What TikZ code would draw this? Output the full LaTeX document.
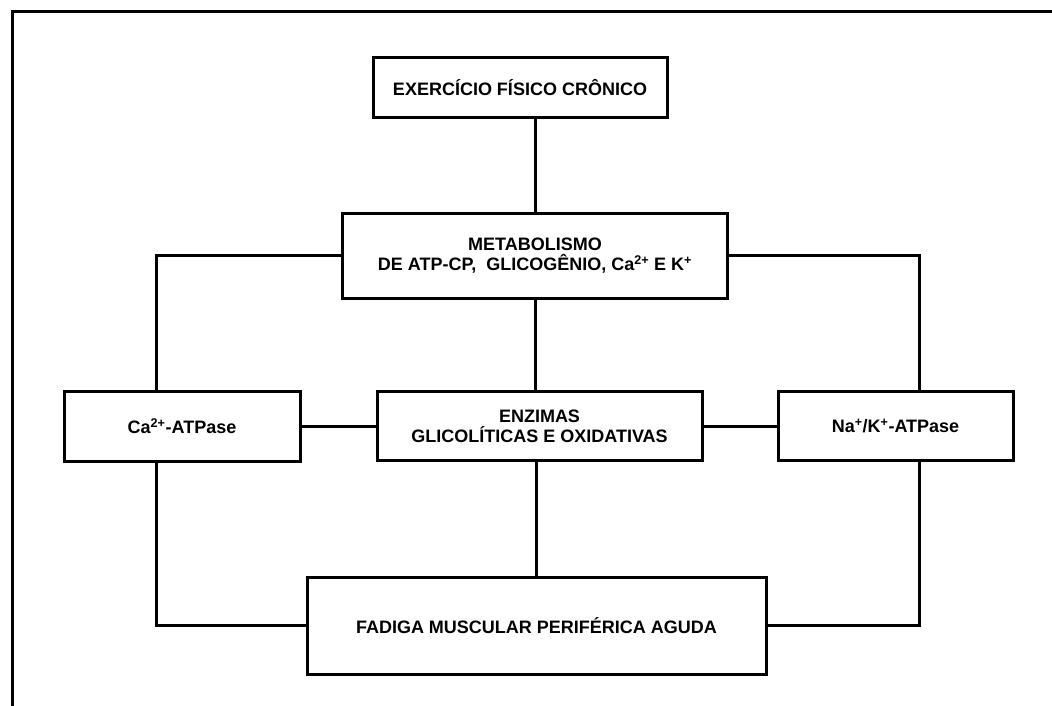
\documentclass[tikz,border=0pt]{standalone}
\usepackage{fontspec}
\setmainfont{Liberation Sans}
\begin{document}
\begin{tikzpicture}[x=1pt,y=-1pt,
  box/.style={draw=black,line width=3pt,fill=white,align=center,inner sep=0pt,
    font=\bfseries\fontsize{18}{20}\selectfont},
  conn/.style={line width=3pt},
  frame/.style={line width=3.6pt}]
\useasboundingbox (0,0) rectangle (1052,706);
\fill[white] (0,0) rectangle (1052,706);
\draw[frame] (12.5,706) -- (12.5,11.5) -- (1052,11.5);

\node[box,minimum width=294pt,minimum height=60pt] (top) at (520,88) {EXERCÍCIO FÍSICO CRÔNICO};
\node[box,minimum width=385pt,minimum height=85pt] (met) at (535,255.5) {METABOLISMO\\DE ATP-CP,\ \ GLICOGÊNIO, Ca\textsuperscript{2+} E K\textsuperscript{+}};
\node[box,minimum width=236pt,minimum height=70pt] (ca) at (182,426) {Ca\textsuperscript{2+}-ATPase};
\node[box,minimum width=325pt,minimum height=69pt] (enz) at (539.5,426) {ENZIMAS\\GLICOLÍTICAS E OXIDATIVAS};
\node[box,minimum width=235pt,minimum height=69pt] (na) at (895.5,426) {Na\textsuperscript{+}/K\textsuperscript{+}-ATPase};
\node[box,minimum width=459pt,minimum height=97pt] (fad) at (536.5,625.5) {FADIGA MUSCULAR PERIFÉRICA AGUDA};

\coordinate (lx) at (156,0);
\coordinate (rx) at (919,0);

\draw[conn] (top.south -| met.north) -- (met.north);
\draw[conn] (met.south) -- (met.south |- enz.north);
\draw[conn] (enz.south -| fad.north) -- (fad.north);
\draw[conn] (met.west) -| (ca.north -| lx);
\draw[conn] (met.east) -| (na.north -| rx);
\draw[conn] (ca.east) -- (enz.west);
\draw[conn] (enz.east) -- (na.west);
\draw[conn] (ca.south -| lx) |- (fad.west);
\draw[conn] (na.south -| rx) |- (fad.east);
\end{tikzpicture}
\end{document}
